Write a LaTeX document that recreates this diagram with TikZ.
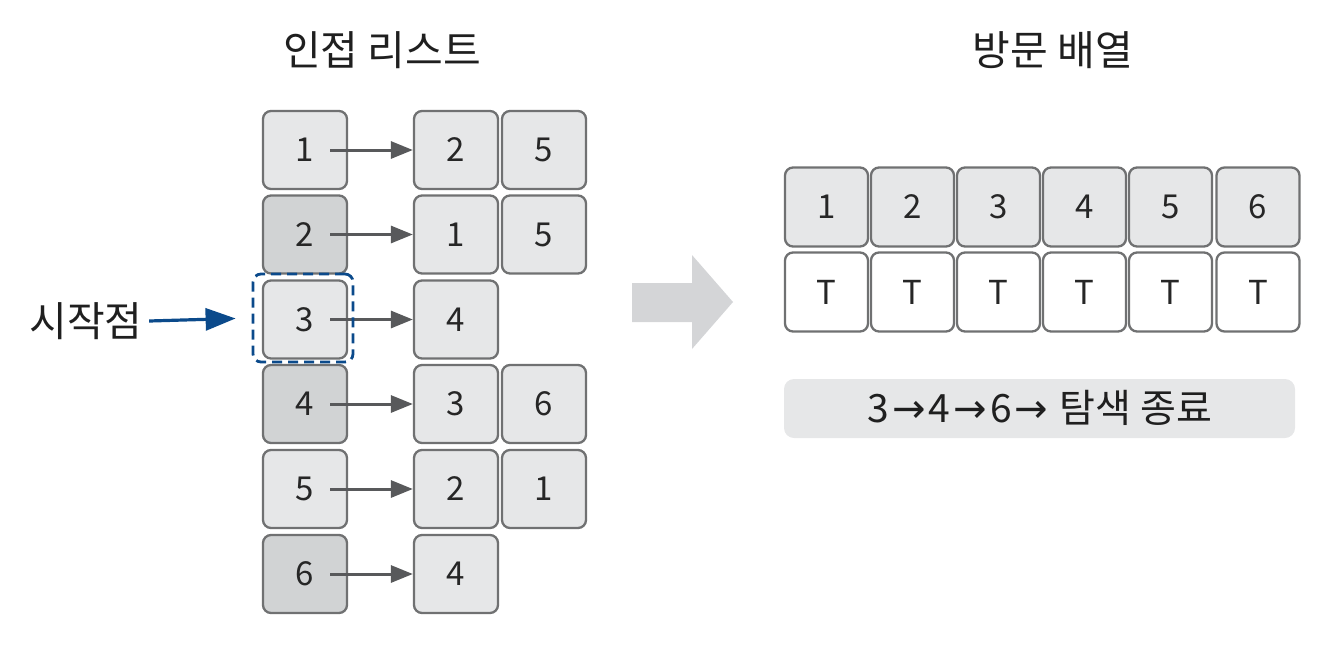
\documentclass[tikz,border=0pt]{standalone}
\usepackage{fontspec}
\setmainfont{Noto Sans CJK KR}
\newfontfamily\arrowfont{DejaVu Sans}
\usetikzlibrary{arrows.meta}
\definecolor{boxline}{HTML}{707172}
\definecolor{boxfill}{HTML}{E6E7E8}
\definecolor{boxdark}{HTML}{D1D3D4}
\definecolor{arrgray}{HTML}{58595B}
\definecolor{navy}{HTML}{0B4A8B}
\definecolor{bigarr}{HTML}{D4D5D7}
\newcommand{\numfont}{\fontsize{33}{36}\selectfont}
\newcommand{\bigfont}{\fontsize{41}{46}\selectfont}
\newcommand{\barr}{{\hspace{3pt}\arrowfont\fontsize{40}{42}\selectfont →\hspace{3pt}}}
\tikzset{
  cell/.style={draw=boxline, line width=2.3pt, rounded corners=8pt, fill=boxfill,
    minimum width=84pt, minimum height=78pt, inner sep=0pt, font=\numfont, text=black!85},
  celldark/.style={cell, fill=boxdark},
  vcell/.style={cell, minimum width=83pt, minimum height=79pt},
  tcell/.style={vcell, fill=white},
  link/.style={draw=arrgray, line width=3pt, -{Triangle[length=22pt,width=17pt]}},
  title/.style={font=\bigfont, text=black!88},
}
\begin{document}
\begin{tikzpicture}[x=1pt,y=-1pt]
\useasboundingbox (0,0) rectangle (1338,646);
% titles
\node[title] (t1) at (382,50) {인접 리스트};
\node[title] (t2) at (1053,50) {방문 배열};
% adjacency list
\node[cell]     (l1) at (305,150)   {1};
\node[celldark] (l2) at (305,234.5) {2};
\node[cell]     (l3) at (305,319.5) {3};
\node[celldark] (l4) at (305,404)   {4};
\node[cell]     (l5) at (305,489)   {5};
\node[celldark] (l6) at (305,574)   {6};
\node[cell] (a1) at (456,150)   {2};
\node[cell] (b1) at (544,150)   {5};
\node[cell] (a2) at (456,234.5) {1};
\node[cell] (b2) at (544,234.5) {5};
\node[cell] (a3) at (456,319.5) {4};
\node[cell] (a4) at (456,404)   {3};
\node[cell] (b4) at (544,404)   {6};
\node[cell] (a5) at (456,489)   {2};
\node[cell] (b5) at (544,489)   {1};
\node[cell] (a6) at (456,574)   {4};
\foreach \i in {1,...,6}{
  \draw[link] ([xshift=25pt]l\i.center) -- (a\i.west);
}
% selection
\node[draw=navy, dash pattern=on 10pt off 6pt, line width=2.8pt, rounded corners=8pt,
  minimum width=100pt, minimum height=88pt, inner sep=0pt] (sel) at (303,318) {};
\node[font=\bigfont, text=black!88] (start) at (86,321) {시작점};
\draw[navy, line width=3.2pt, -{Triangle[length=30pt,width=22pt]}, shorten >=16pt]
  ([xshift=3pt]start.east) -- (sel.west);
% big arrow
\fill[bigarr] (632,283) -- (692,283) -- (692,255) -- (733,302) -- (692,349)
  -- (692,322) -- (632,322) -- cycle;
% visited array
\foreach \n/\x in {1/826.5,2/912.5,3/998.5,4/1084.5,5/1170.5,6/1258}{
  \node[vcell] (v\n) at (\x,207) {\n};
  \node[tcell] (f\n) at (\x,292) {T};
}
% banner
\node[fill=boxfill, rounded corners=10pt, minimum width=511pt, minimum height=59pt,
  inner sep=0pt] (ban) at (1039.5,408.5) {};
\node[font=\fontsize{39}{42}\selectfont, text=black!88] (bantext) at (1040,408)
  {3\barr 4\barr 6\barr{} 탐색 종료};
\end{tikzpicture}
\end{document}
